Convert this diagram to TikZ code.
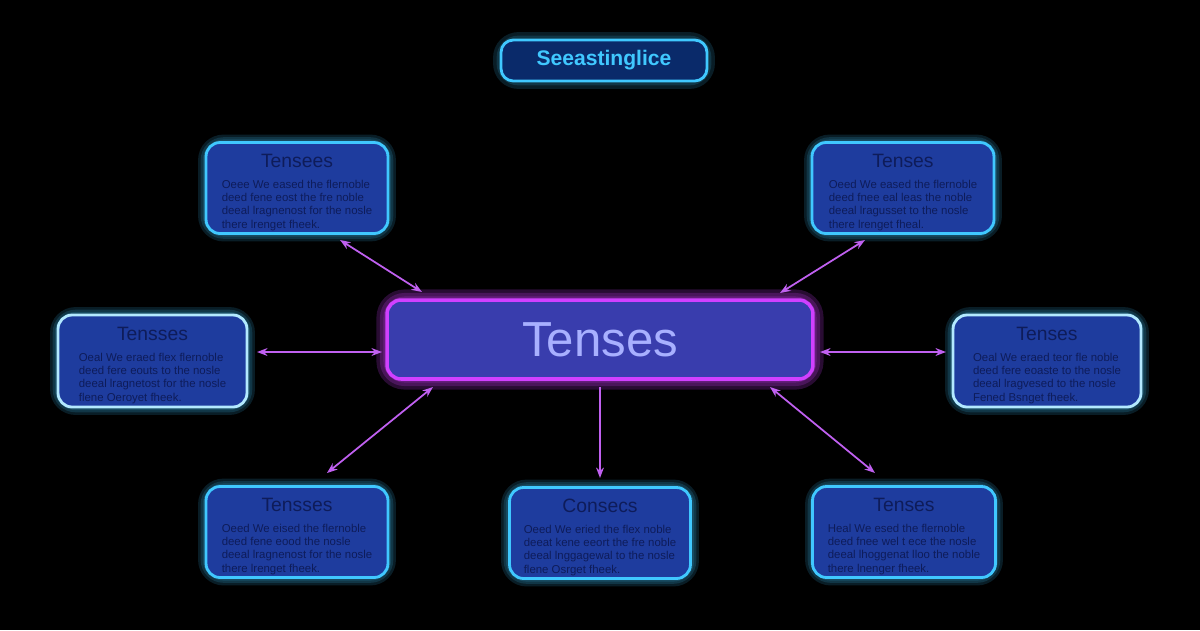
\documentclass[tikz,border=0pt]{standalone}
\usepackage{fontspec}
\setmainfont{Liberation Sans}
\usetikzlibrary{arrows.meta}
\definecolor{bg}{HTML}{000000}
\definecolor{boxfill}{HTML}{1E3C9E}
\definecolor{titlefill}{HTML}{0A2A6A}
\definecolor{cyanb}{HTML}{40C8FF}
\definecolor{magb}{HTML}{D040FF}
\definecolor{navy}{HTML}{0E1C5A}
\definecolor{lav}{HTML}{A8B0FF}
\definecolor{arr}{HTML}{C060F0}
\tikzset{
 glowc/.style={draw=cyanb, line width=#1, draw opacity=0.15, rounded corners=10pt},
 card/.style={draw=cyanb, line width=1.6pt, fill=boxfill, rounded corners=8pt, minimum width=3.64cm, minimum height=1.82cm, inner sep=0pt},
 ttl/.style={font=\fontsize{11}{12}\selectfont, text=navy},
 body/.style={font=\fontsize{6.5}{7.5}\selectfont, text=navy, align=left},
 link/.style={draw=arr, line width=1pt, {Stealth[length=6pt]}-{Stealth[length=6pt]}},
}
\begin{document}
\begin{tikzpicture}[x=0.02cm,y=-0.02cm]
\fill[bg] (0,0) rectangle (1200,630);
\useasboundingbox (0,0) rectangle (1200,630);
\newcommand{\mycard}[6]{%
 \foreach \w in {9pt,6pt,3.5pt}{\draw[glowc=\w] (#2-91,#3-45.5) rectangle (#2+91,#3+45.5);}
 \node[card, minimum width=#6] (#1) at (#2,#3) {};
 \node[ttl] (#1t) at (#2,#3-27) {#4};
 \node[body, anchor=north] (#1b) at (#2,#3-14) {#5};
}
\mycard{tl}{297}{188}{Tensees}{Oeee We eased the flernoble\\deed fene eost the fre noble\\deeal lragnenost for the nosle\\there lrenget fheek.}{3.64cm}
\mycard{tr}{903}{188}{Tenses}{Oeed We eased the flernoble\\deed fnee eal leas the noble\\deeal lragusset to the nosle\\there lrenget fheal.}{3.64cm}
\mycard{bl}{297}{532}{Tensses}{Oeed We eised the flernoble\\deed fene eood the nosle\\deeal lragnenost for the nosle\\there lrenget fheek.}{3.64cm}
\mycard{bm}{600}{533}{Consecs}{Oeed We eried the flex noble\\deeat kene eeort the fre noble\\deeal lnggagewal to the nosle\\flene Osrget fheek.}{3.62cm}
\mycard{br}{904}{532}{Tenses}{Heal We esed the flernoble\\deed fnee wel t ece the nosle\\deeal lhoggenat lloo the noble\\there lnenger fheek.}{3.66cm}
\foreach \w in {9pt,6pt,3.5pt}{\draw[glowc=\w] (58,315) rectangle (247,407); \draw[glowc=\w] (953,315) rectangle (1141,407);}
\node[card, minimum width=3.78cm, minimum height=1.84cm, draw=cyanb!40!white] (ml) at (152.5,361) {};
\node[ttl] (mlt) at (152.5,334) {Tensses};
\node[body, anchor=north] (mlb) at (152.5,347) {Oeal We eraed flex flernoble\\deed fere eouts to the nosle\\deeal lragnetost for the nosle\\flene Oeroyet fheek.};
\node[card, minimum width=3.76cm, minimum height=1.84cm, draw=cyanb!40!white] (mr) at (1047,361) {};
\node[ttl] (mrt) at (1047,334) {Tenses};
\node[body, anchor=north] (mrb) at (1047,347) {Oeal We eraed teor fle noble\\deed fere eoaste to the nosle\\deeal lragvesed to the nosle\\Fened Bsnget fheek.};
\foreach \w in {12pt,8pt,4pt}{\draw[draw=magb, line width=\w, draw opacity=0.2, rounded corners=10pt] (387,300) rectangle (813,379);}
\node[draw=magb, line width=2pt, fill=boxfill!85!magb, rounded corners=8pt, minimum width=8.52cm, minimum height=1.58cm, text=lav, font=\fontsize{28}{30}\selectfont] (c) at (600,339.5) {Tenses};
\foreach \w in {9pt,5pt}{\draw[glowc=\w] (501,40) rectangle (707,81);}
\node[draw=cyanb, line width=1.6pt, fill=titlefill, rounded corners=7pt, minimum width=4.12cm, minimum height=0.82cm, text=cyanb, font=\bfseries\fontsize{12}{14}\selectfont] (title) at (604,60.5) {Seeastinglice};
\coordinate (a1) at (340,240); \coordinate (b1) at (422,292);
\coordinate (a2) at (865,240); \coordinate (b2) at (780,293);
\coordinate (a3) at (257,352); \coordinate (b3) at (382,352);
\coordinate (a4) at (820,352); \coordinate (b4) at (946,352);
\coordinate (a5) at (327,473); \coordinate (b5) at (433,387);
\coordinate (a7) at (770,387); \coordinate (b7) at (875,473);
\coordinate (a6) at (600,387); \coordinate (b6) at (600,478);
\draw[link] (a1) -- (b1);
\draw[link] (a2) -- (b2);
\draw[link] (a3) -- (b3);
\draw[link] (a4) -- (b4);
\draw[link] (a5) -- (b5);
\draw[link] (a7) -- (b7);
\draw[draw=arr, line width=1pt, -{Stealth[length=6pt]}] (a6) -- (b6);
\end{tikzpicture}
\end{document}
